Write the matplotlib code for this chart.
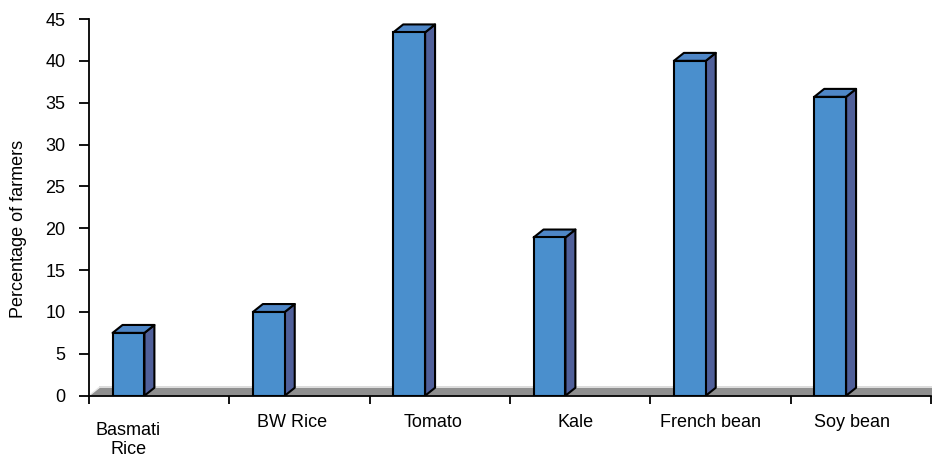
import matplotlib.pyplot as plt
from matplotlib.patches import Polygon

# ── data ──────────────────────────────────────────────────────────────────────
crops = ['Basmati\nRice', 'BW Rice', 'Tomato', 'Kale', 'French bean', 'Soy bean']
pct_farmers = [7.5, 10.0, 43.4, 18.9, 40.0, 35.7]
y_ticks = [0, 5, 10, 15, 20, 25, 30, 35, 40, 45]

# ── style / layout ────────────────────────────────────────────────────────────
front_col = '#4A8FCD'
top_col = '#4E86C6'
side_col = '#50609A'
floor_col = '#8F8F8F'
bar_left = 0.168      # offset of bar front face inside its category slot
bar_w = 0.227
dx, dy = 0.071, 0.95  # 3-D depth offset in data units
label_x = [0.28, 1.447, 2.45, 3.47, 4.43, 5.44]
label_y = [-5.3, -3.2, -3.2, -3.2, -3.2, -3.2]

plt.rcParams['font.family'] = ['Liberation Sans', 'DejaVu Sans']

fig = plt.figure(figsize=(9.32, 4.58), dpi=100)
ax = fig.add_axes([89 / 932, 1 - 395.7 / 458, 842 / 932, 376.7 / 458])

n = len(crops)
ax.set_xlim(0, n)
ax.set_ylim(0, 45)

# floor: dark slab with a thin light rim on its back edge
floor = Polygon([(0, 0), (n, 0), (n + dx, dy), (dx, dy)], closed=True,
                facecolor=floor_col, edgecolor='none', zorder=1, clip_on=False)
rim = Polygon([(dx, dy), (n + dx, dy), (n + dx, dy + 0.25), (dx, dy + 0.25)],
              closed=True, facecolor='#DCDCDC', edgecolor='none', zorder=1,
              clip_on=False)
ax.add_patch(floor)
ax.add_patch(rim)
ax.plot([0, dx], [0, dy], color='#E8E8E8', lw=1.0, zorder=1.1, clip_on=False)

# bars: front faces via ax.bar, then side and top faces from the same geometry
xs = [i + bar_left for i in range(n)]
ax.bar(xs, pct_farmers, width=bar_w, align='edge', color=front_col,
       edgecolor='black', linewidth=1.5, zorder=3)
for x0, v in zip(xs, pct_farmers):
    x1 = x0 + bar_w
    side = Polygon([(x1, 0), (x1 + dx, dy), (x1 + dx, v + dy), (x1, v)],
                   closed=True, facecolor=side_col, edgecolor='black',
                   linewidth=1.5, zorder=2.5, joinstyle='round')
    top = Polygon([(x0, v), (x1, v), (x1 + dx, v + dy), (x0 + dx, v + dy)],
                  closed=True, facecolor=top_col, edgecolor='black',
                  linewidth=1.5, zorder=2.5, joinstyle='round')
    ax.add_patch(side)
    ax.add_patch(top)

# axes
for s in ['top', 'right']:
    ax.spines[s].set_visible(False)
ax.spines['left'].set_linewidth(1.3)
ax.spines['bottom'].set_linewidth(1.3)
ax.spines['left'].set_zorder(4)
ax.spines['bottom'].set_zorder(4)

ax.set_yticks(y_ticks)
ax.tick_params(axis='y', direction='out', length=7, width=1.3, pad=10,
               labelsize=13)
ax.set_xticks(range(n + 1))
ax.set_xticklabels([])
ax.tick_params(axis='x', direction='out', length=6, width=1.3)

for lx, ly, name in zip(label_x, label_y, crops):
    ax.text(lx, ly, name, ha='center', va='center', fontsize=13,
            linespacing=1.1, clip_on=False)

ax.set_ylabel('Percentage of farmers', fontsize=13)
ax.yaxis.set_label_coords(-0.0736, 0.444)

plt.savefig('out.png', dpi=100)
